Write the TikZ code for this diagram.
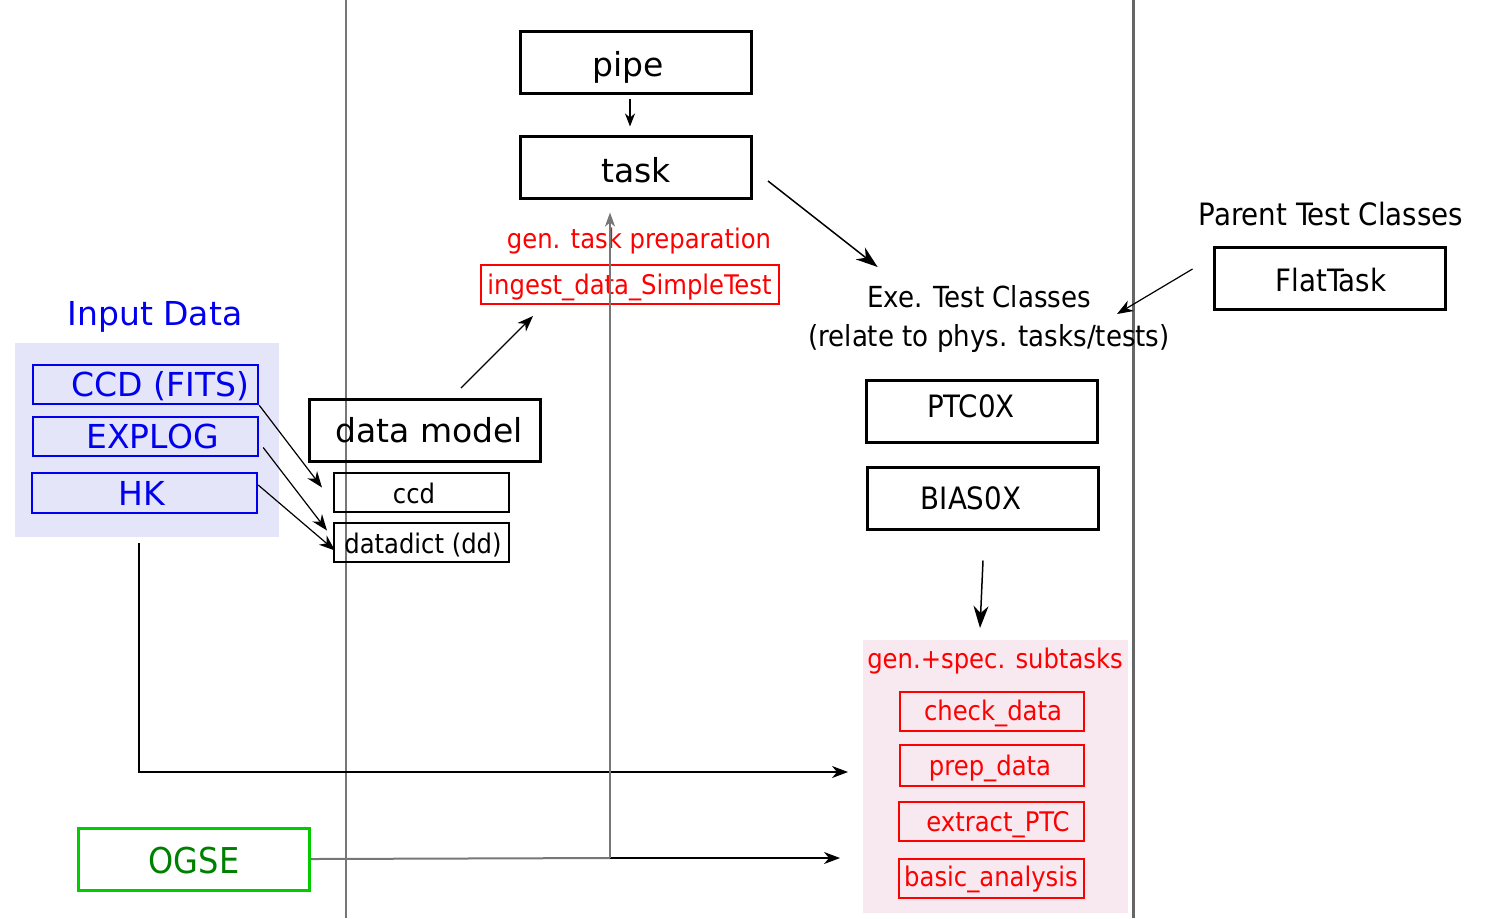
\documentclass[tikz,border=0pt]{standalone}
\usepackage{fontspec}
\setmainfont{DejaVu Sans}
\newfontfamily\dvcond{DejaVu Sans Condensed}
\usetikzlibrary{arrows.meta,calc}
\definecolor{inblue}{HTML}{0000EE}
\definecolor{inbg}{HTML}{E5E5FA}
\definecolor{pinkbg}{HTML}{F8E8F0}
\definecolor{ogsebd}{HTML}{00CC00}
\definecolor{ogsetx}{HTML}{008000}
\definecolor{gline}{HTML}{777777}
\definecolor{divline}{HTML}{666666}
\newcommand\dmnorm{\fontsize{16.5pt}{20pt}\selectfont}
\newcommand\dmcond{\dvcond\fontsize{13.5pt}{16pt}\selectfont}
\newcommand\dmcondb{\dvcond\fontsize{14.5pt}{17pt}\selectfont}
\newcommand\dmcondc{\dvcond\fontsize{15.4pt}{18pt}\selectfont}
\tikzset{
  bigbox/.style={draw=black, line width=1.5pt, minimum width=115.5pt, minimum height=31pt, inner sep=0pt, text depth=0pt},
  smallbox/.style={draw=black, line width=1pt, minimum width=87.5pt, minimum height=19.5pt, inner sep=0pt, text depth=0pt},
  bluebox/.style={draw=inblue, line width=1.2pt, minimum width=112.5pt, minimum height=19.5pt, inner sep=0pt, text=inblue, text depth=0pt},
  redbox/.style={draw=red, line width=1pt, minimum width=92pt, minimum height=19.5pt, inner sep=0pt, text=red, text depth=0pt},
  lbl/.style={inner sep=0pt, anchor=base},
  arrS/.style={line width=0.75pt, -{Stealth[length=6.5pt,width=5pt,inset=2pt]}},
  arrM/.style={line width=0.6pt, -{Stealth[length=8pt,width=6pt,inset=2.5pt]}},
  arrL/.style={line width=0.75pt, -{Stealth[length=11pt,width=7.5pt,inset=3.5pt]}},
}
\begin{document}
\begin{tikzpicture}[x=0.5pt,y=-0.5pt]
\useasboundingbox (0,0) rectangle (1486,918);
% backgrounds
\fill[inbg] (15,343) rectangle (279,537);
\fill[pinkbg] (863,640) rectangle (1128,913);
% divider lines
\draw[gline, line width=0.6pt] (346,0) -- (346,918);
\draw[divline, line width=1.5pt] (1133,0) -- (1133,918);

% nodes
\node[bigbox, text height=14pt] (pipe) at (636,62) {\dmnorm\hspace*{-8pt}pipe};
\node[bigbox, text height=15pt] (task) at (636,167) {\dmnorm task};
\node[lbl, text=red] (gtp) at (639,248) {\dmcond gen. task preparation};
\node[redbox, minimum width=149pt, text height=10pt] (ingest) at (629.5,284.5) {\dmcond ingest\_data\_SimpleTest};

\node[lbl, text=inblue] (indata) at (155,325) {\dmnorm Input Data};
\node[bluebox, text height=11.5pt] (ccdfits) at (145.5,384.5) {\dmnorm\hspace*{15pt}CCD (FITS)};
\node[bluebox, text height=11.5pt] (explog) at (145.5,436.5) {\dmnorm\hspace*{7pt}EXPLOG};
\node[bluebox, minimum height=20pt, text height=12pt] (hk) at (144.5,493) {\dmnorm\hspace*{-3pt}HK};

\node[bigbox, text height=12pt] (dmodel) at (425,430.5) {\dmnorm\hspace*{4pt}data model};
\node[smallbox, text height=10.5pt] (ccd) at (421.5,492.5) {\dmcond\hspace*{-7.5pt}ccd};
\node[smallbox, text height=10.5pt] (dd) at (421.5,542.5) {\dmcond\hspace*{1.5pt}datadict (dd)};

\node[bigbox, draw=ogsebd, text=ogsetx, text height=14pt] (ogse) at (194,859) {\dvcond\fontsize{17.8pt}{20pt}\selectfont OGSE};

\node[lbl] (parent) at (1331,225) {\dmcondc Parent Test Classes};
\node[bigbox, text height=13.5pt] (flat) at (1329.5,278) {\dmcondc\hspace*{1.5pt}FlatTask};
\node[lbl] (exe) at (979,307) {\dmcondb Exe. Test Classes};
\node[lbl] (relate) at (989,346) {\dmcondb (relate to phys. tasks/tests)};
\node[bigbox, text height=6pt] (ptc) at (982,411) {\dmcondc\hspace*{-11pt}PTC0X};
\node[bigbox, text height=11.5pt] (bias) at (983,498) {\dmcondc\hspace*{-12pt}BIAS0X};

\node[lbl, text=red] (gss) at (995,668) {\dmcond gen.+spec. subtasks};
\node[redbox, text height=8.5pt] (check) at (991.5,711.5) {\dmcond\hspace*{1.5pt}check\_data};
\node[redbox, minimum height=20.5pt, text height=10pt] (prep) at (991.5,765) {\dmcond\hspace*{-1.5pt}prep\_data};
\node[redbox, minimum width=92.5pt, text height=10pt] (extract) at (991,821.5) {\dmcond\hspace*{7pt}extract\_PTC};
\node[redbox, minimum width=92.5pt, text height=8pt] (basic) at (991,878.5) {\dmcond basic\_analysis};

% free-end coordinates
\coordinate (subin1) at (848,772);
\coordinate (subin2) at (840,858);
\coordinate (subtop) at (980,628);
\coordinate (junc) at (610,858);
\coordinate (inout) at (139,543);
\coordinate (indown) at (139,772);
\coordinate (ingin) at (533,316);
\coordinate (exein) at (1117,314);

% connectors
\draw[arrS, shorten <=2pt, shorten >=4pt] ([xshift=-3pt]pipe.south) -- ([xshift=-3pt]task.north);
\draw[arrL] ([shift={(15,14)}]task.east) -- ([shift={(11,-40)}]exe.base west);
\draw[arrM] ([shift={(36,-10)}]dmodel.north) -- (ingin);
\draw[arrM] (ccdfits.south east) -- ([shift={(-11,-5)}]ccd.west);
\draw[arrM] ([shift={(4,11)}]explog.east) -- ([shift={(-6,-12)}]dd.west);
\draw[arrM] ([shift={(0,-8)}]hk.east) -- ([shift={(2,8)}]dd.west);
\draw[arrM] (inout) -- (indown) -- (subin1);
\draw[gline, line width=1pt] (ogse.east) -- (junc);
\draw[arrM] (junc) -- (subin2);
\draw[gline, line width=1pt, -{Stealth[length=7pt,width=5pt,inset=2pt]}] (junc) -- ([shift={(-26,13)}]task.south);
\draw[arrM] ([shift={(-20,-9)}]flat.west) -- (exein);
\draw[arrL] ([shift={(0,30)}]bias.south) -- (subtop);
\end{tikzpicture}
\end{document}
